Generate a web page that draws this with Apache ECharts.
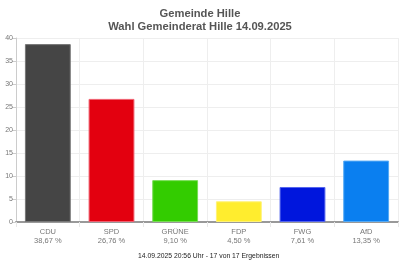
<!DOCTYPE html>
<html><head><meta charset="utf-8">
<script src="https://cdn.jsdelivr.net/npm/echarts@6/dist/echarts.min.js"></script>
<style>html,body{margin:0;padding:0;background:#fff}#c{width:400px;height:263px}</style>
</head><body><div id="c"></div>
<script>
const categories = ["CDU", "SPD", "GRÜNE", "FDP", "FWG", "AfD"];
const values = [38.67, 26.76, 9.10, 4.50, 7.61, 13.35];
const percentLabels = ["38,67 %", "26,76 %", "9,10 %", "4,50 %", "7,61 %", "13,35 %"];
const colors = ["#454545", "#e3000f", "#33cc00", "#ffed2e", "#0016dd", "#0a7ff0"];
const borderColors = ["#777777", "#f06070", "#77dd55", "#fff277", "#5566ee", "#55aaf5"];
const yTicks = [0, 5, 10, 15, 20, 25, 30, 35, 40];
const titleLines = ["Gemeinde Hille", "Wahl Gemeinderat Hille 14.09.2025"];
const footer = "14.09.2025 20:56 Uhr - 17 von 17 Ergebnissen";

const chart = echarts.init(document.getElementById('c'), null, {renderer: 'canvas'});
const font = "'Liberation Sans', Arial, sans-serif";
chart.setOption({
  animation: false,
  title: [{
    text: titleLines.join("\n"), left: 'center', top: 2,
    textStyle: {fontFamily: font, fontSize: 11.2, fontWeight: 'bold', color: '#555', lineHeight: 13}
  }, {
    text: footer, left: 133, top: 248, padding: 5,
    textStyle: {fontFamily: font, fontSize: 6.8, fontWeight: 'normal', color: '#222'}
  }],
  grid: {left: 16, right: 2, top: 38, bottom: 41, containLabel: false},
  xAxis: {
    type: 'category', data: categories, boundaryGap: true,
    axisLine: {lineStyle: {color: '#999', width: 2}},
    axisTick: {show: true, interval: 0, length: 5, lineStyle: {color: '#e8e8e8'}},
    splitLine: {show: true, interval: 0, lineStyle: {color: '#eeeeee'}},
    axisLabel: {
      interval: 0, margin: 5, color: '#777', fontFamily: font, fontSize: 7.5, lineHeight: 9,
      formatter: (v, i) => v + "\n" + percentLabels[i]
    }
  },
  yAxis: {
    type: 'value', min: yTicks[0], max: yTicks[yTicks.length - 1], interval: 5,
    axisLine: {show: true, lineStyle: {color: '#ccc'}},
    axisTick: {show: true, length: 4, lineStyle: {color: '#ccc'}},
    splitLine: {lineStyle: {color: '#eeeeee'}},
    axisLabel: {color: '#777', fontFamily: font, fontSize: 7, margin: 3}
  },
  series: [{
    type: 'bar', barWidth: '72%',
    data: values.map((v, i) => ({
      value: v,
      itemStyle: {color: colors[i], borderColor: borderColors[i], borderWidth: 1}
    }))
  }]
});
</script></body></html>
